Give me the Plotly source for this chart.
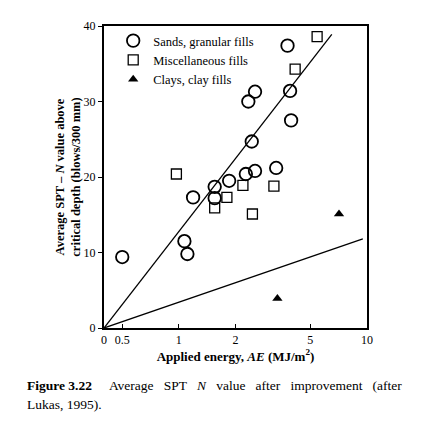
import plotly.graph_objects as go

# (x is on a log scale, the "0" corner sits at about 0.4)
sand_x = [0.5, 1.07, 1.11, 1.19, 1.55, 1.55, 1.85, 2.27, 2.54, 3.29, 2.44, 2.34, 2.54, 3.78, 3.9, 3.95]
sand_y = [9.4, 11.5, 9.8, 17.3, 18.7, 17.2, 19.5, 20.4, 20.8, 21.2, 24.7, 30.0, 31.3, 37.4, 31.4, 27.5]

misc_x = [0.97, 1.55, 1.8, 2.19, 2.46, 3.2, 4.15, 5.43]
misc_y = [20.4, 15.9, 17.3, 18.9, 15.1, 18.8, 34.3, 38.6]

clay_x = [7.1, 3.34]
clay_y = [15.1, 3.9]

upper_x = [0.4, 6.5]
upper_y = [0, 38.9]
lower_x = [0.4, 9.5]
lower_y = [0, 11.8]

tick_vals = [0.4, 0.5, 1, 2, 5, 10]
tick_text = ['0', '0.5', '1', '2', '5', '10']

serif = 'Liberation Serif'
sp = '\u00a0'

fig = go.Figure()
fig.add_trace(go.Scatter(x=upper_x, y=upper_y, mode='lines', line=dict(color='black', width=1.3),
                         showlegend=False, hoverinfo='skip'))
fig.add_trace(go.Scatter(x=lower_x, y=lower_y, mode='lines', line=dict(color='black', width=1.3),
                         showlegend=False, hoverinfo='skip'))
fig.add_trace(go.Scatter(x=sand_x, y=sand_y, mode='markers', name='Sands, granular fills',
                         marker=dict(symbol='circle-open', size=12.5, color='black', line=dict(width=1.8))))
fig.add_trace(go.Scatter(x=misc_x, y=misc_y, mode='markers', name='Miscellaneous fills',
                         marker=dict(symbol='square-open', size=10, color='black', line=dict(width=1.3))))
fig.add_trace(go.Scatter(x=clay_x, y=clay_y, mode='markers', name='Clays, clay fills',
                         marker=dict(symbol='triangle-up', size=9, color='black')))

# page body has an 8px margin, so the figure is kept 8px smaller
fig.update_layout(
    width=416, height=418,
    margin=dict(l=96, r=57, t=18, b=98),
    paper_bgcolor='white', plot_bgcolor='white',
    font=dict(family=serif, size=12, color='black'),
    showlegend=True,
    legend=dict(x=0.035, y=1.0, xanchor='left', yanchor='top', bgcolor='rgba(0,0,0,0)',
                font=dict(family=serif, size=12.5), itemwidth=30, tracegroupgap=0),
    xaxis=dict(type='log', range=[-0.398, 1.0], tickvals=tick_vals, ticktext=tick_text,
               ticks='inside', ticklen=4, tickcolor='black', showgrid=False, zeroline=False,
               showline=True, linecolor='black', linewidth=2, mirror=True,
               tickfont=dict(family=serif, size=12),
               title=dict(text='<b>Applied energy, <i>AE</i> (MJ/m<sup>2</sup>)</b>',
                          font=dict(family=serif, size=13), standoff=4)),
    yaxis=dict(range=[0, 40], tickvals=[0, 10, 20, 30, 40], ticks='outside', ticklen=4,
               tickcolor='black', showgrid=False, zeroline=False,
               showline=True, linecolor='black', linewidth=2, mirror=True,
               tickfont=dict(family=serif, size=12),
               title=dict(text='<b>Average SPT \u2013 <i>N</i> value above<br>critical depth (blows/300 mm)</b>',
                          font=dict(family=serif, size=12.5), standoff=0)),
)

# justified caption line, spread with extra spaces
line1 = ('<b>Figure 3.22</b>' + sp * 5 + 'Average' + sp * 3 + 'SPT' + sp * 3 + '<i>N</i>' + sp * 3 + 'value'
         + sp * 3 + 'after' + sp * 3 + 'improvement' + sp * 3 + '(after')
fig.add_annotation(text=line1, xref='paper', yref='paper', x=-0.302, y=-0.189,
                   xanchor='left', yanchor='middle', align='left', showarrow=False,
                   font=dict(family=serif, size=13.5))
fig.add_annotation(text='Lukas, 1995).', xref='paper', yref='paper', x=-0.302, y=-0.252,
                   xanchor='left', yanchor='middle', align='left', showarrow=False,
                   font=dict(family=serif, size=13.5))

fig.write_html("out.html")
